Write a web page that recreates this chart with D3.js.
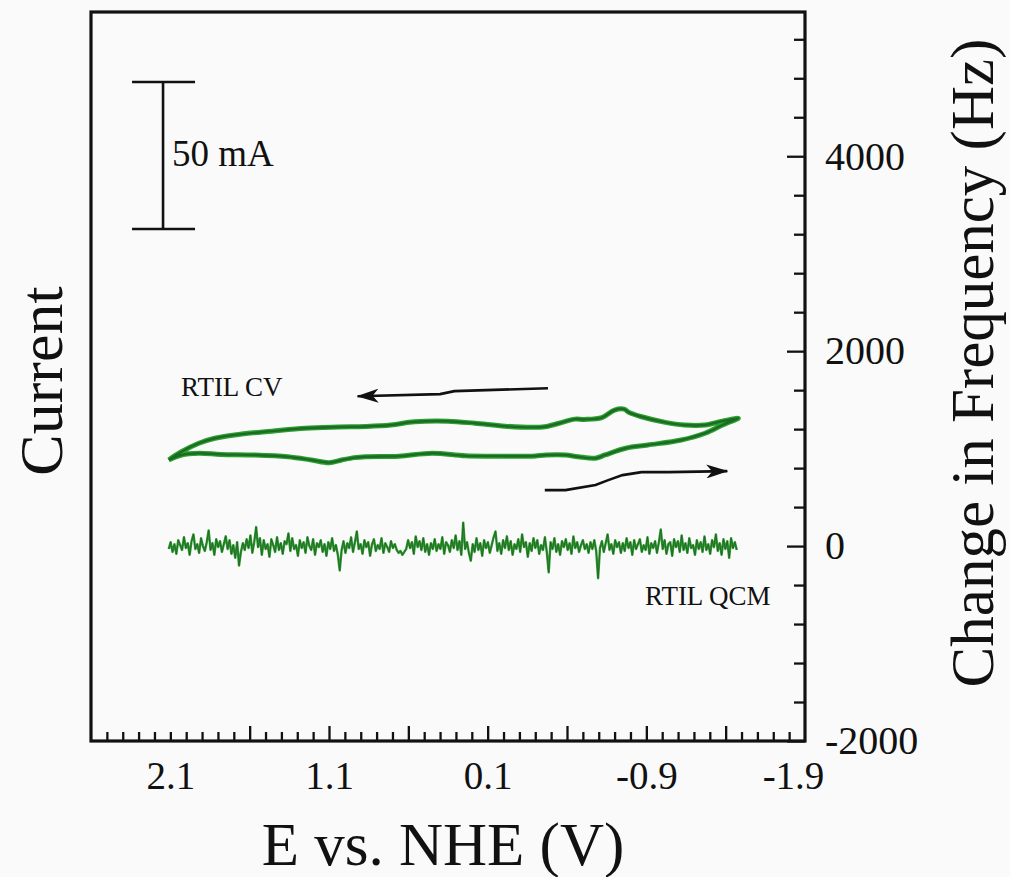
<!DOCTYPE html>
<html>
<head>
<meta charset="utf-8">
<script src="https://cdn.jsdelivr.net/npm/d3@7"></script>
<style>
  html, body { margin: 0; padding: 0; background: #fafafa; }
  svg { display: block; font-family: "Liberation Serif", "Times New Roman", serif; }
</style>
</head>
<body>
<svg id="chart" width="1010" height="877"></svg>
<script>
// ---- axes ----
const potentialDomain = [2.6, -1.9];          // E vs. NHE (V), scanned right-to-left on paper
const frequencyDomain = [-2000, 5480];        // Hz
const currentDomain = [-110, 138];            // mA (hidden left scale)

const potentialLabels = [2.1, 1.1, 0.1, -0.9, -1.9];
const potentialMajorTicks = [1.6, 1.1, 0.6, 0.1, -0.4, -0.9, -1.4];
const potentialMinorTicks = [2.5, 2.4, 2.3, 2.2, 2.1, 2.0, 1.9, 1.8, 1.7, 1.5, 1.4, 1.3, 1.2,
  1.0, 0.9, 0.8, 0.7, 0.5, 0.4, 0.3, 0.2, 0.0, -0.1, -0.2, -0.3, -0.5, -0.6, -0.7, -0.8,
  -1.0, -1.1, -1.2, -1.3, -1.5, -1.6, -1.7, -1.8];
const frequencyLabels = [-2000, 0, 2000, 4000];
const frequencyMinorTicks = [-1600, -1200, -800, -400, 400, 800, 1200, 1600, 2400, 2800,
  3200, 3600, 4400, 4800, 5200];

// ---- cyclic voltammogram (forward scan, then return scan) ----
const cvPotential = [2.11, 2.03, 1.92, 1.78, 1.57, 1.36, 1.21, 1.10, 1.02, 0.94, 0.87, 0.66,
  0.45, 0.24, 0.03, -0.18, -0.27, -0.39, -0.47, -0.58, -0.64, -0.77, -0.91, -1.12, -1.27,
  -1.38, -1.48,
  -1.38, -1.27, -1.14, -1.02, -0.87, -0.79, -0.76, -0.70, -0.62, -0.51, -0.45, -0.35, -0.26,
  -0.18, -0.01, 0.18, 0.35, 0.56, 0.71, 0.87, 1.04, 1.25, 1.46, 1.67, 1.82, 1.92, 2.03, 2.11];
const cvCurrent = [-14.4, -12.7, -12.1, -12.5, -12.7, -13.3, -14.4, -15.3, -14.4, -13.6, -13.3,
  -13.1, -12.1, -13.0, -13.1, -13.1, -12.7, -12.7, -13.3, -13.8, -12.7, -10.4, -9.3, -7.6,
  -5.3, -2.5, -0.2,
  -1.2, -2.5, -2.5, -1.6, 0.3, 1.8, 2.9, 2.6, 0.0, -0.6, -0.5, -1.9, -3.1, -3.3, -2.9, -1.9,
  -1.2, -1.4, -2.5, -3.0, -3.2, -3.6, -4.6, -5.7, -7.0, -8.7, -11.6, -14.4];

// ---- QCM frequency change, recorded over the same scan window ----
const qcmStart = 2.11;
const qcmEnd = -1.47;
const qcmFrequency = [
  -30, 40, -60, 20, -80, 60, 10, -40, 90, -20, 30, -90, 50, 120, -30, 20, -70, 80, 0, -50,
  40, 160, -40, 30, -90, 70, -10, 50, -60, 20, 100, -30, 60, -80, 10, -120, 40, -200, -60, 30,
  -40, 70, -20, 110, -70, 40, 195, -10, 80, -90, 60, -30, 20, -110, 70, 10, -60, 90, -40, 30,
  -80, 50, 20, 130, -50, 80, -30, 10, -100, 60, -20, 40, -70, 90, 0, -40, 70, -90, 30, -10,
  60, -60, 20, -100, 40, -30, 80, -50, 10, -90, -250, -40, 50, -70, 30, -20, 90, -60, 40, 150,
  -30, 20, -80, 60, -10, 40, -100, 20, 70, -50, 10, -30, 80, -70, 30, -10, -60, 50, -20, 20,
  -40, -70, -50, -90, -60, -30, 60, -20, 40, -80, 100, -10, 50, -40, 80, -60, 20, -90, 30, -30,
  70, -50, 20, -30, 90, -80, 40, 10, -60, 60, -20, 110, -40, 50, -90, 240, -30, 40, -70, -150,
  20, -60, 80, -40, 30, -100, 60, -20, 40, -70, 10, 90, 150, -50, 30, -80, 60, -20, 100, -40,
  50, -90, 20, -30, 70, -60, 120, -10, 40, -110, 30, -50, 80, -20, 60, -80, 10, -40, 90, -60,
  -270, 40, -30, 80, -60, 20, -90, 50, -10, 70, -40, 30, -80, 100, -20, 40, -60, 10, 60, -30,
  20, -70, 40, -30, 60, -50, -330, -20, 50, -60, 30, 120, -40, 20, -80, 60, -10, 40, -70, 30,
  -50, 80, -20, 40, -90, 60, -30, 20, 70, -60, 10, -40, 90, -80, 30, -20, 50, -70, 40, 170,
  -30, 60, -80, 20, 40, -100, 70, -10, 50, -60, 110, -40, 30, -70, 80, -20, 10, -90, 60, -30,
  40, -60, 100, -40, 20, -80, 60, -10, 120, -50, 30, -90, 70, -30, 50, -120, 80, -20, 40, -40
];

// ---- scan-direction arrows (E, Hz) ----
const returnArrowE = [-0.28, 0.31, 0.40, 0.92];
const returnArrowHz = [1620, 1590, 1559, 1538];
const forwardArrowE = [-0.26, -0.39, -0.58, -0.66, -0.75, -0.87, -1.04, -1.41];
const forwardArrowHz = [574, 574, 626, 677, 728, 759, 759, 769];

// ---- current scale bar (mA) ----
const scaleBarLow = 64.2;
const scaleBarSpan = 50;
const scaleBarE = 2.146;

// ---- layout ----
const box = { left: 91, right: 805, top: 12, bottom: 741 };
const svg = d3.select("#chart");

const x = d3.scaleLinear().domain(potentialDomain).range([box.left, box.right]);
const yHz = d3.scaleLinear().domain(frequencyDomain).range([box.bottom, box.top]);
const yI = d3.scaleLinear().domain(currentDomain).range([box.bottom, box.top]);

svg.append("rect").attr("width", 1010).attr("height", 877).attr("fill", "#fafafa");

// bottom axis: minor, major and labels
const bottom = svg.append("g").attr("transform", `translate(0,${box.bottom})`);
bottom.append("g").call(d3.axisBottom(x).tickValues(potentialMinorTicks).tickSize(-9).tickFormat(""));
bottom.append("g").call(d3.axisBottom(x).tickValues(potentialMajorTicks).tickSize(-15).tickFormat(""));
const bottomLabels = bottom.append("g")
  .call(d3.axisBottom(x).tickValues(potentialLabels).tickSize(0).tickPadding(20)
    .tickFormat(d => d3.format(".1f")(d).replace("−", "-")));
bottomLabels.selectAll("text").attr("font-size", 39).attr("fill", "#111")
  .attr("font-family", "'Liberation Serif','Times New Roman',serif")
  .attr("dx", d => d === -1.9 ? -12 : 0);

// right axis
const right = svg.append("g").attr("transform", `translate(${box.right},0)`);
right.append("g").call(d3.axisRight(yHz).tickValues(frequencyMinorTicks).tickSize(-11).tickFormat(""));
const rightLabels = right.append("g")
  .call(d3.axisRight(yHz).tickValues(frequencyLabels).tickSize(-18).tickPadding(-20)
    .tickFormat(d => String(d)));
rightLabels.selectAll("text").attr("font-size", 40).attr("fill", "#111")
  .attr("font-family", "'Liberation Serif','Times New Roman',serif")
  .attr("x", 20);

svg.selectAll(".domain").remove();
svg.selectAll(".tick line").attr("stroke", "#111").attr("stroke-width", 2.3);

// plot frame
svg.append("rect")
  .attr("x", box.left).attr("y", box.top)
  .attr("width", box.right - box.left).attr("height", box.bottom - box.top)
  .attr("fill", "none").attr("stroke", "#111").attr("stroke-width", 3.2);

// QCM trace
const qcmStep = (qcmEnd - qcmStart) / (qcmFrequency.length - 1);
const qcmLine = d3.line()
  .x((d, i) => x(qcmStart + i * qcmStep))
  .y(d => yHz(d));
svg.append("path").datum(qcmFrequency)
  .attr("d", qcmLine).attr("fill", "none")
  .attr("stroke", "#2f9a2f").attr("stroke-width", 2.4).attr("stroke-linejoin", "round");
svg.append("path").datum(qcmFrequency)
  .attr("d", qcmLine).attr("fill", "none")
  .attr("stroke", "#1f5f25").attr("stroke-width", 1).attr("opacity", 0.75);

// CV loop
const cvPoints = cvPotential.map((e, i) => [e, cvCurrent[i]]);
const cvLine = d3.line().x(d => x(d[0])).y(d => yI(d[1])).curve(d3.curveCatmullRom.alpha(0.5));
svg.append("path").datum(cvPoints)
  .attr("d", cvLine).attr("fill", "none")
  .attr("stroke", "#2aa02e").attr("stroke-width", 5).attr("stroke-linejoin", "round");
svg.append("path").datum(cvPoints)
  .attr("d", cvLine).attr("fill", "none")
  .attr("stroke", "#1d6a24").attr("stroke-width", 2.4);

// arrows
const defs = svg.append("defs");
defs.append("marker")
  .attr("id", "head").attr("viewBox", "0 0 22 14")
  .attr("refX", 21).attr("refY", 7)
  .attr("markerWidth", 22).attr("markerHeight", 14)
  .attr("markerUnits", "userSpaceOnUse").attr("orient", "auto")
  .append("path").attr("d", "M0,0 L22,7 L0,14 L6,7 Z").attr("fill", "#111");

const arrowLine = d3.line().x(d => x(d[0])).y(d => yHz(d[1]));
[[returnArrowE, returnArrowHz], [forwardArrowE, forwardArrowHz]].forEach(([es, hs]) => {
  svg.append("path").datum(es.map((e, i) => [e, hs[i]]))
    .attr("d", arrowLine).attr("fill", "none")
    .attr("stroke", "#111").attr("stroke-width", 2.6)
    .attr("marker-end", "url(#head)");
});

// scale bar for current
const sbX = x(scaleBarE);
const sb = svg.append("g").attr("stroke", "#111").attr("stroke-width", 2.6);
sb.append("line").attr("x1", sbX).attr("x2", sbX)
  .attr("y1", yI(scaleBarLow)).attr("y2", yI(scaleBarLow + scaleBarSpan));
[scaleBarLow, scaleBarLow + scaleBarSpan].forEach(v => {
  sb.append("line").attr("x1", sbX - 31).attr("x2", sbX + 32)
    .attr("y1", yI(v)).attr("y2", yI(v));
});
svg.append("text").attr("x", sbX + 9).attr("y", yI(scaleBarLow + scaleBarSpan / 2) + 11)
  .attr("font-size", 37).attr("fill", "#111").text("50 mA");

// series annotations
svg.append("text").attr("x", 181).attr("y", 396)
  .attr("font-size", 27).attr("fill", "#111").text("RTIL CV");
svg.append("text").attr("x", 645).attr("y", 605)
  .attr("font-size", 27).attr("fill", "#111").text("RTIL QCM");

// axis titles
svg.append("text")
  .attr("x", (box.left + box.right) / 2 - 5).attr("y", 865)
  .attr("text-anchor", "middle").attr("font-size", 61).attr("fill", "#111")
  .text("E vs. NHE (V)");
svg.append("text")
  .attr("transform", "translate(62,381) rotate(-90)")
  .attr("text-anchor", "middle").attr("font-size", 62).attr("fill", "#111")
  .text("Current");
svg.append("text")
  .attr("transform", "translate(993,363) rotate(-90)")
  .attr("text-anchor", "middle").attr("font-size", 61).attr("fill", "#111")
  .text("Change in Frequency (Hz)");
</script>
</body>
</html>
